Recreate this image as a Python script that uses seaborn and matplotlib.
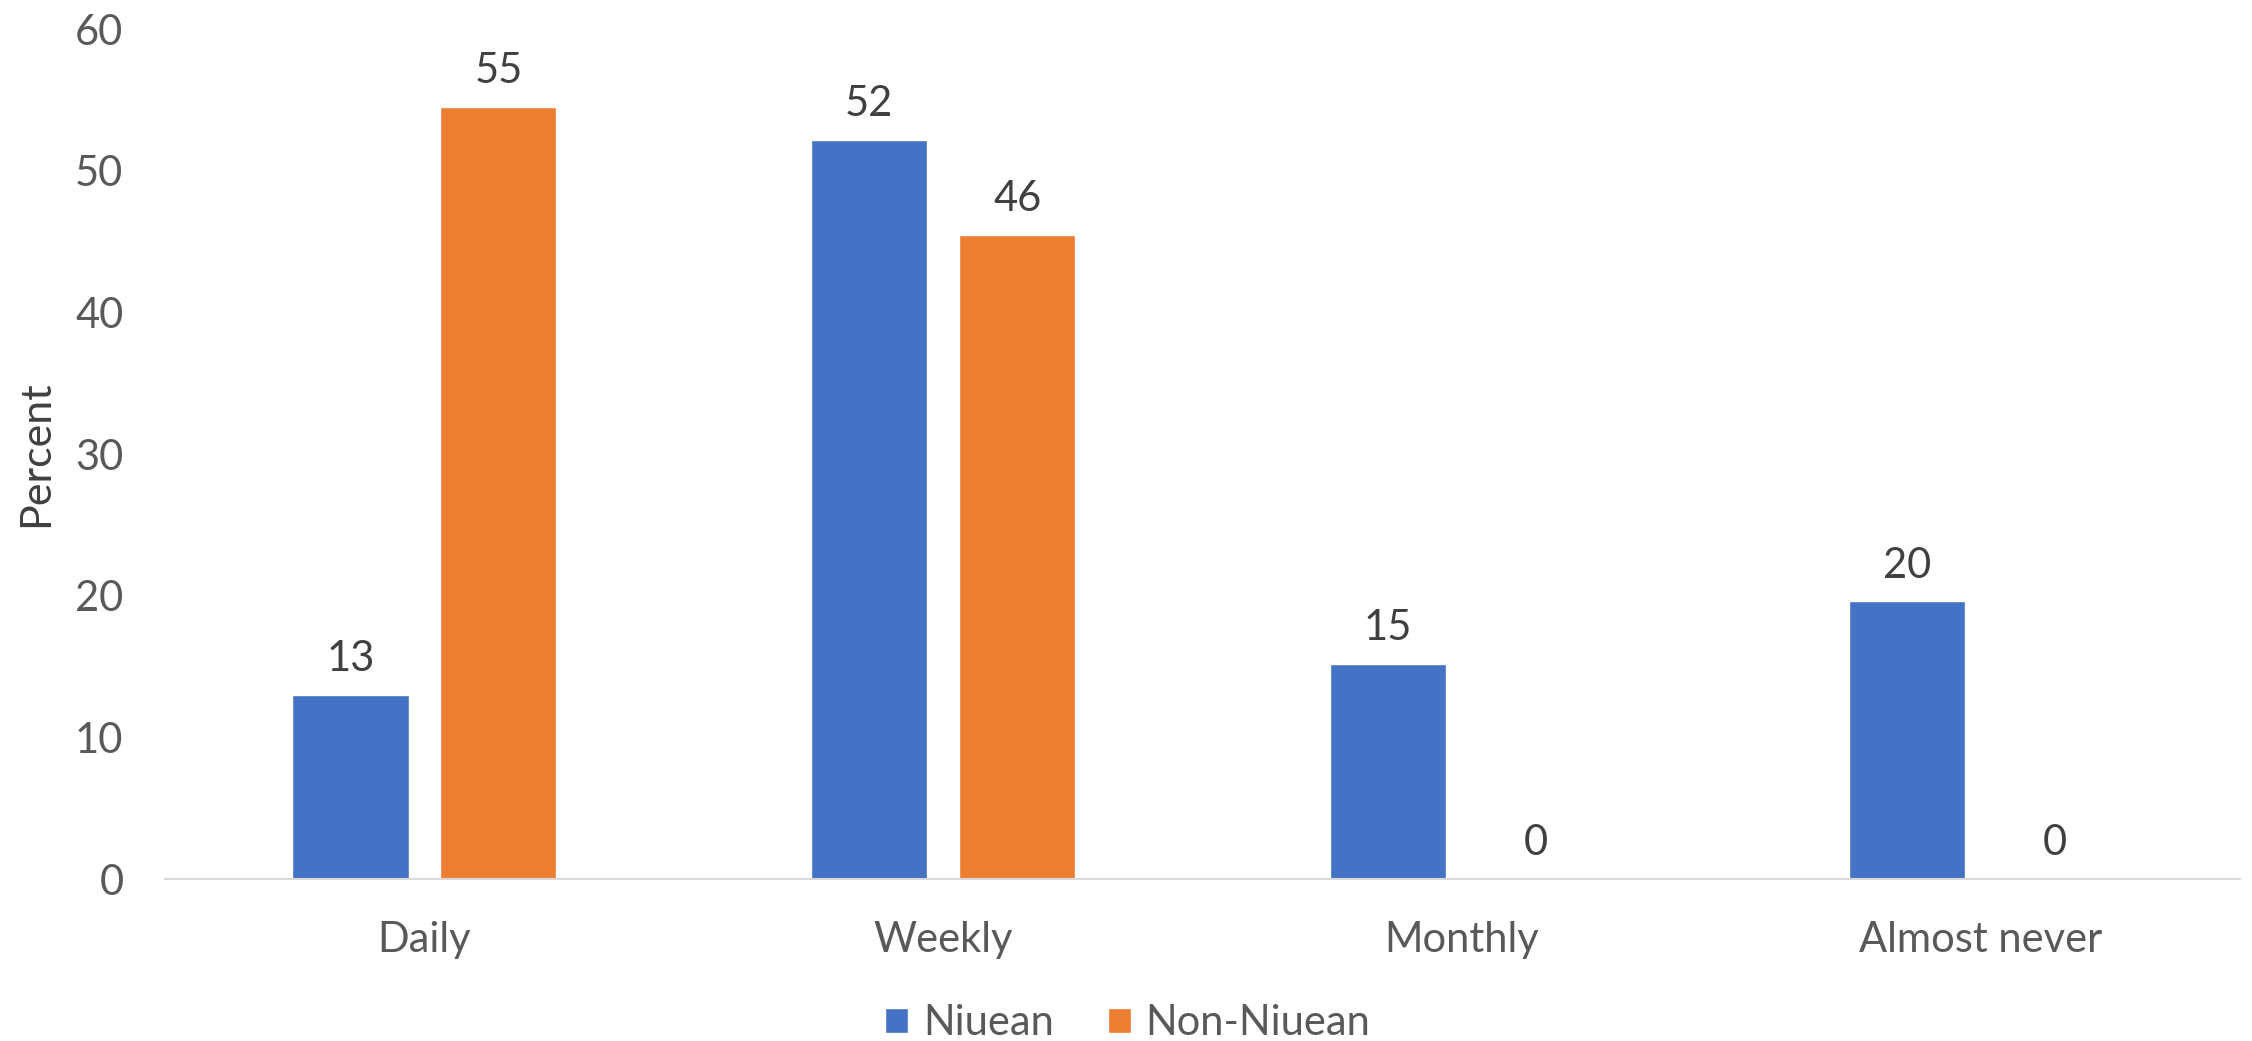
import numpy as np
import pandas as pd
import matplotlib.pyplot as plt
import seaborn as sns

### chart data
categories = ['Daily', 'Weekly', 'Monthly', 'Almost never']
groups = ['Niuean', 'Non-Niuean']
niuean = [13.0, 52.2, 15.2, 19.6]
non_niuean = [54.5, 45.5, 0.0, 0.0]
labels_niuean = ['13', '52', '15', '20']
labels_non = ['55', '46', '0', '0']
yticks = [0, 10, 20, 30, 40, 50, 60]

colors = ['#4472C4', '#ED7D31']

sns.set_theme(style='white')
plt.rcParams['font.family'] = ['Lato', 'DejaVu Sans']

df = pd.DataFrame({
    'cat': categories * 2,
    'group': [groups[0]] * 4 + [groups[1]] * 4,
    'value': niuean + non_niuean,
})

fig = plt.figure(figsize=(22.52, 10.41), dpi=100)
ax = fig.add_axes([0.0733, 0.1556, 0.9214, 0.8164])

sns.barplot(data=df, x='cat', y='value', hue='group', palette=colors,
            width=0.57, gap=0.214, saturation=1, ax=ax, legend=True)

### data labels
for cont, labs in zip(ax.containers, [labels_niuean, labels_non]):
    ax.bar_label(cont, labels=labs, padding=12, fontsize=30, color='#404040')

ax.set_xlim(-0.5, 3.5)
ax.set_ylim(0, 60)
ax.set_yticks(yticks)
ax.set_xlabel('')
ax.set_ylabel('Percent', fontsize=31, color='#404040', labelpad=14)
ax.tick_params(axis='both', labelsize=30, colors='#595959', length=0)
ax.tick_params(axis='y', pad=30)
ax.tick_params(axis='x', pad=30)

for s in ['top', 'right', 'left']:
    ax.spines[s].set_visible(False)
ax.spines['bottom'].set_color('#D9D9D9')
ax.spines['bottom'].set_linewidth(1.5)

leg = ax.legend(loc='center', bbox_to_anchor=(0.464, -0.17), ncol=2,
                frameon=False, fontsize=30, handlelength=0.55, handleheight=0.55,
                columnspacing=1.3, handletextpad=0.35, labelcolor='#595959')

fig.savefig('out.png', dpi=100)
